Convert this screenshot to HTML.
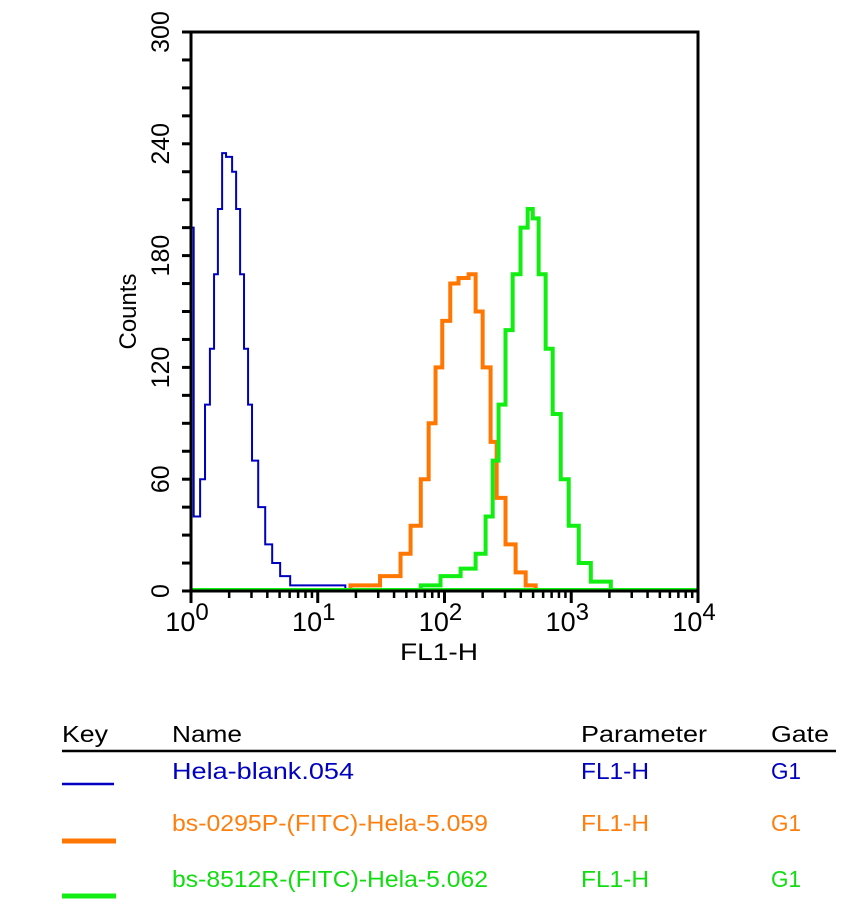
<!DOCTYPE html>
<html><head><meta charset="utf-8"><style>
html,body{margin:0;padding:0;background:#fff;}
svg{display:block;font-family:"Liberation Sans",Arial,sans-serif;}
</style></head><body>
<svg id="chart" width="863" height="910" viewBox="0 0 863 910">
<g id="plot"></g>
<g id="legend" font-size="23">
 <text x="62" y="742" textLength="46" lengthAdjust="spacingAndGlyphs">Key</text>
 <text x="172" y="742" textLength="70" lengthAdjust="spacingAndGlyphs">Name</text>
 <text x="581" y="742" textLength="126" lengthAdjust="spacingAndGlyphs">Parameter</text>
 <text x="771" y="742" textLength="58" lengthAdjust="spacingAndGlyphs">Gate</text>
 <line x1="62" y1="751" x2="836" y2="751" stroke="#000" stroke-width="2.5"/>
 <g fill="#0000c0">
  <line x1="62" y1="784" x2="114" y2="784" stroke="#0000c0" stroke-width="2.5"/>
  <text x="172" y="779" textLength="182" lengthAdjust="spacingAndGlyphs">Hela-blank.054</text>
  <text x="581" y="779" textLength="68" lengthAdjust="spacingAndGlyphs">FL1-H</text>
  <text x="771" y="779" textLength="30" lengthAdjust="spacingAndGlyphs">G1</text>
 </g>
 <g fill="#ff7f0e">
  <line x1="62" y1="841" x2="116" y2="841" stroke="#ff7700" stroke-width="5"/>
  <text x="172" y="831" textLength="316" lengthAdjust="spacingAndGlyphs">bs-0295P-(FITC)-Hela-5.059</text>
  <text x="581" y="831" textLength="68" lengthAdjust="spacingAndGlyphs">FL1-H</text>
  <text x="771" y="831" textLength="30" lengthAdjust="spacingAndGlyphs">G1</text>
 </g>
 <g fill="#11dd11">
  <line x1="62" y1="896" x2="116" y2="896" stroke="#11ee11" stroke-width="5"/>
  <text x="172" y="887" textLength="316" lengthAdjust="spacingAndGlyphs">bs-8512R-(FITC)-Hela-5.062</text>
  <text x="581" y="887" textLength="68" lengthAdjust="spacingAndGlyphs">FL1-H</text>
  <text x="771" y="887" textLength="30" lengthAdjust="spacingAndGlyphs">G1</text>
 </g>
</g>
</svg>
<script>
const yTicks = [0, 60, 120, 180, 240, 300];
const xDecades = [0, 1, 2, 3, 4];
const blueX = [1.0, 1.05, 1.18, 1.29, 1.41, 1.52, 1.63, 1.76, 1.89, 2.11, 2.27, 2.44, 2.62, 2.82, 3.03, 3.39, 3.85, 4.37, 5.05, 6.06, 16.5];
const blueY = [195, 40, 60, 100, 130, 170, 205, 235, 233, 225, 205, 170, 130, 100, 70, 45, 25, 15, 8, 3, 0];
const orangeX = [18.1, 31, 45, 54, 65, 75, 85, 96, 111, 129, 155, 176, 200, 231, 258, 303, 364, 437, 524];
const orangeY = [3, 8, 20, 35, 60, 90, 120, 145, 165, 168, 170, 150, 120, 80, 50, 25, 10, 3, 0];
const greenX = [65, 93, 134, 176, 211, 240, 267, 303, 345, 398, 453, 497, 553, 628, 714, 826, 955, 1146, 1427, 2052];
const greenY = [3, 8, 12, 20, 40, 70, 100, 140, 170, 195, 205, 200, 170, 130, 95, 60, 35, 15, 5, 0];

const L = 191, R = 698, T = 32, B = 591;
function xs(v){ return L + (Math.log10(v) - 0) / 4 * (R - L); }
function ys(c){ return B - c / 300 * (B - T); }
const NS = "http://www.w3.org/2000/svg";
const plot = document.getElementById('plot');
function mk(tag, attrs){ const e = document.createElementNS(NS, tag); for (const k in attrs) e.setAttribute(k, attrs[k]); plot.appendChild(e); return e; }

let bl = mk('line', {x1: L, y1: B, x2: R, y2: B, stroke: '#0000c0', 'stroke-width': 2});



function stepPath(xv, yv){
  let d = 'M' + xs(xv[0]) + ' ' + ys(0);
  for (let i = 0; i < xv.length; i++){
    const x0 = xs(xv[i]);
    const x1 = i + 1 < xv.length ? xs(xv[i+1]) : x0;
    d += ' L' + x0 + ' ' + ys(yv[i]) + ' L' + x1 + ' ' + ys(yv[i]);
  }
  return d;
}
let pb = mk('path', {d: stepPath(blueX, blueY), fill: 'none', stroke: '#0000c0', 'stroke-width': 2});


let po = mk('path', {d: stepPath(orangeX, orangeY), fill: 'none', stroke: '#ff7700', 'stroke-width': 4});


let gb = mk('line', {x1: L, y1: B - 1, x2: R, y2: B - 1, stroke: '#11ee11', 'stroke-width': 4});


let pg = mk('path', {d: stepPath(greenX, greenY), fill: 'none', stroke: '#11ee11', 'stroke-width': 4});



let fr = mk('path', {d: `M${L} ${B} L${L} ${T} L${R} ${T} L${R} ${B} Z`, fill: 'none', stroke: '#000', 'stroke-width': 3});



for (let c = 0; c <= 300; c += 15){
  let t = mk('line', {x1: L - 9, y1: ys(c), x2: L, y2: ys(c), stroke: '#000', 'stroke-width': 3});
  
  
}
yTicks.forEach(v => {
  const y = ys(v);
  let t = mk('text', {x: 0, y: 0, transform: `translate(169 ${y}) rotate(-90)`, 'text-anchor': 'middle', 'font-size': 25});
  t.textContent = String(v);
  
  
});
let yt = mk('text', {x: 0, y: 0, transform: `translate(136 ${(T + B) / 2}) rotate(-90)`, 'text-anchor': 'middle', 'font-size': 24});
yt.textContent = 'Counts';



xDecades.forEach(d => {
  const x = xs(Math.pow(10, d));
  let t = mk('line', {x1: x, y1: B, x2: x, y2: B + 12, stroke: '#000', 'stroke-width': 3});
  
  
  let lb = mk('text', {x: x - 4, y: B + 40, 'text-anchor': 'middle', 'font-size': 27});
  
  
  const base = document.createElementNS(NS, 'tspan'); base.textContent = '10'; lb.appendChild(base);
  const sup = document.createElementNS(NS, 'tspan'); sup.setAttribute('dy', '-11'); sup.setAttribute('font-size', '24'); sup.textContent = String(d); lb.appendChild(sup);
  if (d < 4){
    for (let m = 2; m <= 9; m++){
      const xm = xs(m * Math.pow(10, d));
      let mt = mk('line', {x1: xm, y1: B, x2: xm, y2: B + 7, stroke: '#000', 'stroke-width': 2.5});
      
      
    }
  }
});
let xt = mk('text', {x: 400, y: 660, 'font-size': 24, textLength: 78, lengthAdjust: 'spacingAndGlyphs'});
xt.textContent = 'FL1-H';


</script>
</body></html>
